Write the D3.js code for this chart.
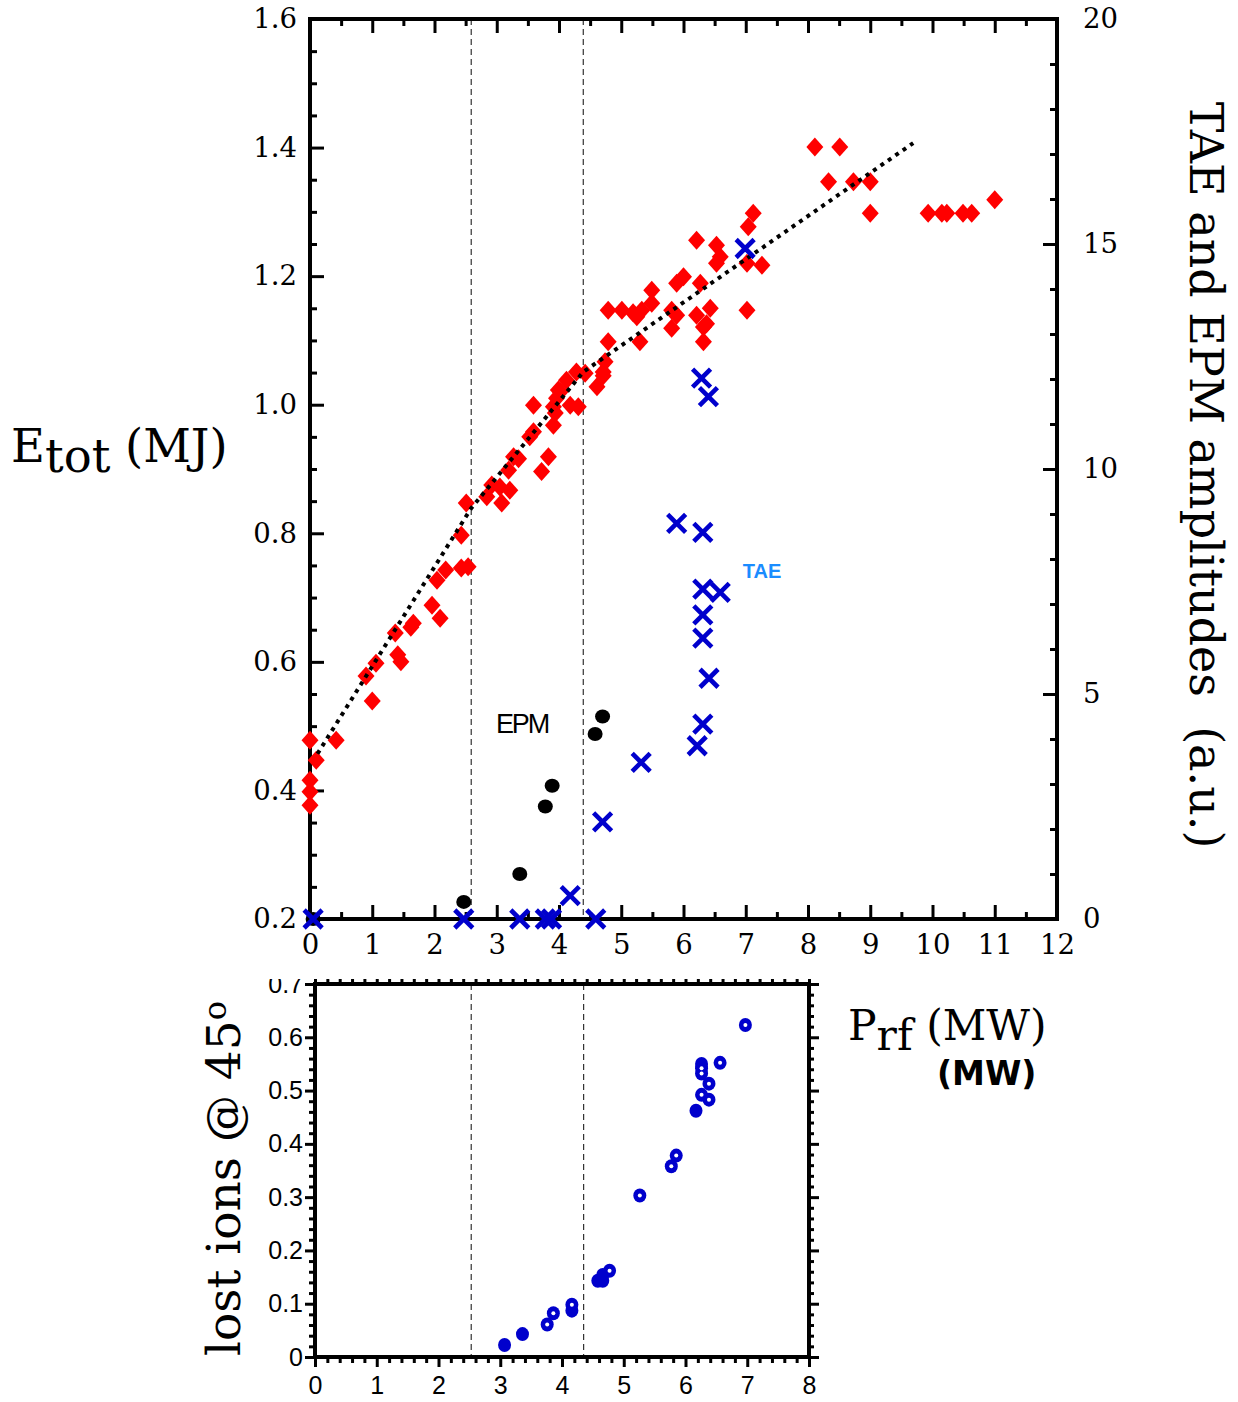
<!DOCTYPE html>
<html>
<head>
<meta charset="utf-8">
<script src="https://cdn.jsdelivr.net/npm/d3@7"></script>
<style>
  body { margin: 0; background: #fff; }
  svg { display: block; }
</style>
</head>
<body>
<svg id="chart" width="1238" height="1402"></svg>
<script>
// ---- Stored energy vs RF power (red diamonds) ----
const energyPrf = [0, 0, 0, 0, 0.10, 0.42, 0.90, 1.06, 1.00, 1.37, 1.41, 1.46, 1.62, 1.66,
  1.96, 2.09, 2.04, 2.18, 2.43, 2.43, 2.54, 2.51, 2.84, 2.92, 3.05, 3.21, 3.08, 3.19,
  3.27, 3.35, 3.72, 3.83, 3.53, 3.59, 3.59, 3.91, 3.91, 3.96, 4.02, 4.12, 4.28, 4.42,
  4.18, 4.31, 4.61, 4.71, 4.74, 4.79, 4.79, 5.01, 5.19, 5.33, 5.30, 5.25, 5.49, 5.49,
  5.81, 5.89, 5.81, 6.00, 5.89, 6.27, 6.21, 6.43, 6.37, 6.32, 6.32, 6.21, 6.53, 6.59,
  6.53, 7.02, 7.26, 7.02, 7.12, 7.04, 8.11, 8.51, 8.33, 8.73, 9.00, 9.00, 9.93, 10.15,
  10.23, 10.49, 10.63, 11.00, 4.71, 3.99, 3.94];
const energyEtot = [0.478, 0.416, 0.398, 0.377, 0.447, 0.478, 0.578, 0.598, 0.539, 0.645, 0.611, 0.600, 0.654, 0.660,
  0.688, 0.668, 0.727, 0.743, 0.797, 0.746, 0.748, 0.847, 0.857, 0.875, 0.872, 0.867, 0.847, 0.898,
  0.919, 0.916, 0.896, 0.919, 0.950, 0.958, 0.999, 0.968, 0.997, 1.010, 1.020, 1.038, 1.051, 1.049,
  0.999, 0.997, 1.028, 1.051, 1.067, 1.098, 1.147, 1.147, 1.143, 1.147, 1.098, 1.137, 1.178, 1.158,
  1.147, 1.139, 1.119, 1.199, 1.189, 1.189, 1.139, 1.150, 1.126, 1.121, 1.098, 1.256, 1.248, 1.230,
  1.220, 1.220, 1.217, 1.147, 1.298, 1.277, 1.401, 1.401, 1.347, 1.347, 1.347, 1.298, 1.298, 1.298,
  1.298, 1.298, 1.298, 1.319, 1.045, 1.023, 0.987];

// ---- Trend line through the energy data ----
const trendPrf = [0.12, 2.59, 4.39, 9.69];
const trendEtot = [0.457, 0.839, 1.051, 1.407];

// ---- TAE amplitudes (blue crosses, right axis) ----
const taePrf = [0.05, 2.47, 3.37, 3.78, 3.88, 4.59, 4.18, 4.70, 5.32, 6.22, 6.31, 6.41,
  6.31, 6.31, 6.31, 6.59, 5.89, 6.31, 6.29, 6.40, 6.99];
const taeAmp = [0, 0, 0, 0, 0, 0, 0.52, 2.16, 3.48, 3.85, 4.33, 5.35,
  6.24, 6.76, 7.33, 7.26, 8.79, 8.59, 12.02, 11.61, 14.9];

// ---- EPM amplitudes (black dots, right axis) ----
const epmPrf = [0.05, 2.47, 3.37, 3.78, 3.89, 4.58, 4.70];
const epmAmp = [0, 0.38, 1.0, 2.50, 2.96, 4.11, 4.50];

// ---- Lost ions at 45 degrees (lower panel) ----
const lostPrf = [3.07, 3.36, 3.76, 3.86, 4.16, 4.16, 4.58, 4.66, 4.66, 4.77, 5.26,
  5.77, 5.85, 6.17, 6.26, 6.38, 6.38, 6.26, 6.26, 6.26, 6.56, 6.97];
const lostIons = [0.0225, 0.043, 0.061, 0.082, 0.087, 0.098, 0.143, 0.143, 0.154, 0.162, 0.303,
  0.358, 0.378, 0.462, 0.492, 0.483, 0.513, 0.532, 0.542, 0.550, 0.552, 0.623];
const lostOpen = [0, 0, 1, 1, 0, 1, 0, 0, 0, 1, 1,
  1, 1, 0, 1, 1, 1, 1, 1, 0, 1, 1];

// ---- Regime boundaries (RF power, MW) ----
const boundsTop = [2.59, 4.39];
const boundsBottom = [2.53, 4.35];

// ---- Axis ticks ----
const topXTicks = d3.range(0, 13);
const topEtotTicks = [0.2, 0.4, 0.6, 0.8, 1.0, 1.2, 1.4, 1.6];
const topAmpTicks = [0, 5, 10, 15, 20];
const bottomXTicks = d3.range(0, 9);
const bottomYTicks = [0, 0.1, 0.2, 0.3, 0.4, 0.5, 0.6, 0.7];

const SERIF = "'DejaVu Serif', serif";
const SANS = "'Liberation Sans', Arial, sans-serif";
const BLUE = "#0000cc";

const svg = d3.select("#chart");

function drawAxis(gen, transform, opts = {}) {
  const g = svg.append("g").attr("transform", transform).call(gen);
  g.select(".domain").remove();
  g.selectAll(".tick line").attr("stroke", "#000").attr("stroke-width", opts.tw || 3);
  g.attr("font-family", opts.font || SERIF).attr("font-size", opts.size || 27.5);
  return g;
}
function drawAxisIn(parent, gen, transform, opts = {}) {
  const g = parent.append("g").attr("transform", transform).call(gen);
  g.select(".domain").remove();
  g.selectAll(".tick line").attr("stroke", "#000").attr("stroke-width", opts.tw || 3);
  g.attr("font-family", opts.font || SANS).attr("font-size", opts.size || 25);
  return g;
}

// ================= Upper panel =================
const x1 = d3.scaleLinear().domain([0, 12]).range([310, 1057]);
const yE = d3.scaleLinear().domain([0.2, 1.6]).range([919, 19]);
const yA = d3.scaleLinear().domain([0, 20]).range([919, 19]);

// regime boundaries
svg.append("g").selectAll("line").data(boundsTop).join("line")
  .attr("x1", d => x1(d)).attr("x2", d => x1(d))
  .attr("y1", yE(1.6)).attr("y2", yE(0.2))
  .attr("stroke", "#333").attr("stroke-width", 1.2).attr("stroke-dasharray", "6,4");

// axes (ticks point inward)
const halfSteps = d3.range(0.5, 12, 1);
const eMinor = d3.range(0, 29).map(i => 0.2 + i * 0.05).filter((d, i) => i % 4 !== 0);
const aMinor = d3.range(0, 21).filter(d => d % 5 !== 0);

drawAxis(d3.axisBottom(x1).tickValues(topXTicks).tickSize(-14).tickPadding(15).tickFormat(d3.format("d")), "translate(0,919)");
drawAxis(d3.axisBottom(x1).tickValues(halfSteps).tickSize(-7).tickFormat(""), "translate(0,919)");
drawAxis(d3.axisTop(x1).tickValues(topXTicks).tickSize(-14).tickFormat(""), "translate(0,19)");
drawAxis(d3.axisTop(x1).tickValues(halfSteps).tickSize(-7).tickFormat(""), "translate(0,19)");
drawAxis(d3.axisLeft(yE).tickValues(topEtotTicks).tickSize(-14).tickPadding(13).tickFormat(d3.format(".1f")), "translate(310,0)");
drawAxis(d3.axisLeft(yE).tickValues(eMinor).tickSize(-7).tickFormat(""), "translate(310,0)");
drawAxis(d3.axisRight(yA).tickValues(topAmpTicks).tickSize(-14).tickPadding(26).tickFormat(d3.format("d")), "translate(1057,0)");
drawAxis(d3.axisRight(yA).tickValues(aMinor).tickSize(-7).tickFormat(""), "translate(1057,0)");

svg.append("rect").attr("x", x1(0)).attr("y", yE(1.6))
  .attr("width", x1(12) - x1(0)).attr("height", yE(0.2) - yE(1.6))
  .attr("fill", "none").attr("stroke", "#000").attr("stroke-width", 4);

// energy diamonds
const energy = energyPrf.map((p, i) => ({ p, e: energyEtot[i] }));
svg.append("g").selectAll("path").data(energy).join("path")
  .attr("transform", d => `translate(${x1(d.p)},${yE(d.e)})`)
  .attr("d", "M0,-9.5L8.5,0L0,9.5L-8.5,0Z")
  .attr("fill", "#ff0000");

// trend line
const trend = trendPrf.map((p, i) => [x1(p), yE(trendEtot[i])]);
svg.append("path").attr("d", d3.line()(trend))
  .attr("fill", "none").attr("stroke", "#000").attr("stroke-width", 4)
  .attr("stroke-dasharray", "4,5");

// EPM dots
svg.append("g").selectAll("ellipse").data(epmPrf.map((p, i) => ({ p, a: epmAmp[i] }))).join("ellipse")
  .attr("cx", d => x1(d.p)).attr("cy", d => yA(d.a))
  .attr("rx", 7.5).attr("ry", 7).attr("fill", "#000");

// TAE crosses
svg.append("g").selectAll("path").data(taePrf.map((p, i) => ({ p, a: taeAmp[i] }))).join("path")
  .attr("transform", d => `translate(${x1(d.p)},${yA(d.a)})`)
  .attr("d", "M-9,-9L9,9M-9,9L9,-9")
  .attr("stroke", BLUE).attr("stroke-width", 4.6).attr("fill", "none");

// in-plot labels
svg.append("text").attr("x", 522).attr("y", 733).attr("text-anchor", "middle")
  .attr("font-family", SANS).attr("font-size", 27).attr("letter-spacing", -2.2)
  .text("EPM");
svg.append("text").attr("x", 762).attr("y", 578).attr("text-anchor", "middle")
  .attr("font-family", SANS).attr("font-weight", "bold").attr("font-size", 20)
  .attr("fill", "#1a8cff").text("TAE");

// axis titles
const eTitle = svg.append("text").attr("x", 11).attr("y", 462)
  .attr("font-family", SERIF).attr("font-size", 46.5);
eTitle.append("tspan").text("E");
eTitle.append("tspan").attr("dy", 10).text("tot");
eTitle.append("tspan").attr("dy", -10).text(" (MJ)");

svg.append("text")
  .attr("transform", "translate(1190,475) rotate(90)")
  .attr("text-anchor", "middle").attr("font-family", SERIF).attr("font-size", 46)
  .style("white-space", "pre")
  .text("TAE and EPM amplitudes  (a.u.)");

const pTitle = svg.append("text").attr("x", 848).attr("y", 1040)
  .attr("font-family", SERIF).attr("font-size", 42.5);
pTitle.append("tspan").text("P");
pTitle.append("tspan").attr("dy", 10).text("rf");
pTitle.append("tspan").attr("dy", -10).text(" (MW)");

svg.append("text").attr("x", 937).attr("y", 1085)
  .attr("font-family", "'DejaVu Sans', sans-serif").attr("font-weight", "bold")
  .attr("font-size", 33).text("(MW)");

// ================= Lower panel =================
svg.append("defs").append("clipPath").attr("id", "lowerClip")
  .append("rect").attr("x", 0).attr("y", 979).attr("width", 1238).attr("height", 423);
const low = svg.append("g").attr("clip-path", "url(#lowerClip)");

const x2 = d3.scaleLinear().domain([0, 8]).range([315, 809]);
const y2 = d3.scaleLinear().domain([0, 0.7]).range([1357, 984]);

low.append("g").selectAll("line").data(boundsBottom).join("line")
  .attr("x1", d => x2(d)).attr("x2", d => x2(d))
  .attr("y1", y2(0.7)).attr("y2", y2(0))
  .attr("stroke", "#333").attr("stroke-width", 1.2).attr("stroke-dasharray", "6,4");

const fifthSteps = d3.range(0, 41).map(i => i * 0.2);
const xMinor2 = fifthSteps.filter((d, i) => i % 5 !== 0);
const yMinor2 = d3.range(0, 36).map(i => i * 0.02).filter((d, i) => i % 5 !== 0);

drawAxisIn(low, d3.axisBottom(x2).tickValues(bottomXTicks).tickSize(10).tickPadding(9).tickFormat(d3.format("d")), "translate(0,1357)");
drawAxisIn(low, d3.axisBottom(x2).tickValues(xMinor2).tickSize(6).tickFormat(""), "translate(0,1357)");
drawAxisIn(low, d3.axisTop(x2).tickValues(fifthSteps).tickSize(5).tickFormat(""), "translate(0,984)");
drawAxisIn(low, d3.axisLeft(y2).tickValues(bottomYTicks).tickSize(10).tickPadding(2)
  .tickFormat(d => d === 0 ? "0" : d3.format(".1f")(d)), "translate(315,0)");
drawAxisIn(low, d3.axisLeft(y2).tickValues(yMinor2).tickSize(6).tickFormat(""), "translate(315,0)");
drawAxisIn(low, d3.axisRight(y2).tickValues(bottomYTicks).tickSize(10).tickFormat(""), "translate(809,0)");
drawAxisIn(low, d3.axisRight(y2).tickValues(yMinor2).tickSize(5).tickFormat(""), "translate(809,0)");

low.append("rect").attr("x", x2(0)).attr("y", y2(0.7))
  .attr("width", x2(8) - x2(0)).attr("height", y2(0) - y2(0.7))
  .attr("fill", "none").attr("stroke", "#000").attr("stroke-width", 4);

const lost = lostPrf.map((p, i) => ({ p, v: lostIons[i], open: lostOpen[i] }));
const lostG = low.append("g");
lostG.selectAll("ellipse").data(lost).join("ellipse")
  .attr("cx", d => x2(d.p)).attr("cy", d => y2(d.v))
  .attr("rx", 6.5).attr("ry", 7).attr("fill", BLUE);
lostG.selectAll("circle").data(lost.filter(d => d.open)).join("circle")
  .attr("cx", d => x2(d.p)).attr("cy", d => y2(d.v))
  .attr("r", 2).attr("fill", "#fff");

const lostTitle = low.append("text")
  .attr("transform", "translate(240,1356) rotate(-90)")
  .attr("font-family", SERIF).attr("font-size", 47);
lostTitle.append("tspan").text("lost ions @ 45");
lostTitle.append("tspan").attr("dy", -14).attr("font-size", 32).text("o");
</script>
</body>
</html>
